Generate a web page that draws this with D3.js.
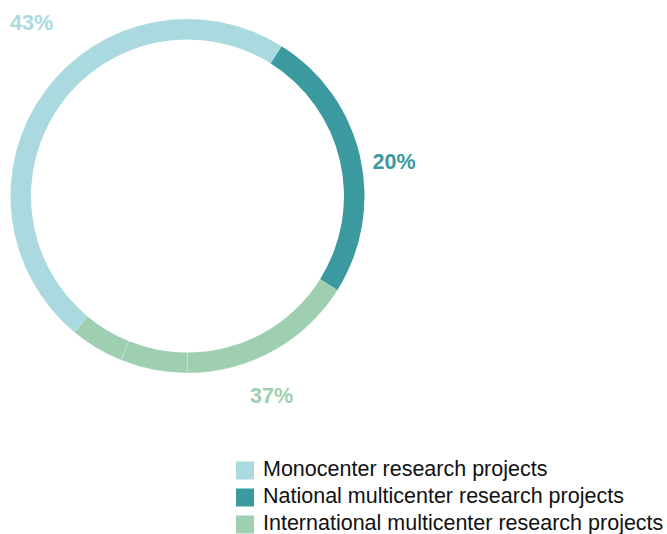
<!DOCTYPE html>
<html>
<head>
<meta charset="utf-8">
<script src="https://cdn.jsdelivr.net/npm/d3@7"></script>
<style>
  body { margin: 0; background: #fff; }
  svg { display: block; font-family: "Liberation Sans", Arial, Helvetica, sans-serif; }
</style>
</head>
<body>
<svg id="chart" width="667" height="534"></svg>
<script>
var categories = [
  "Monocenter research projects",
  "National multicenter research projects",
  "International multicenter research projects",
];

var shareLabels = ["43%", "20%", "37%"];

// ring pieces as drawn (share of the circle, %), and which category each belongs to
var segmentValues = [47.9, 25, 16.1, 6.1, 4.9];
var segmentCategory = [0, 1, 2, 2, 2];

var colors = ["#aadadf", "#3b9a9f", "#9ecfb1"];

var svg = d3.select("#chart"),
  cx = 187.5,
  cy = 196,
  outer = 177,
  inner = 156.5,
  g = svg.append("g").attr("transform", "translate(" + cx + "," + cy + ")");

var start = (219.7 * Math.PI) / 180;

var pie = d3
  .pie()
  .sort(null)
  .startAngle(start)
  .endAngle(start + 2 * Math.PI);

var arc = d3.arc().innerRadius(inner).outerRadius(outer);

g.selectAll("path")
  .data(pie(segmentValues))
  .enter()
  .append("path")
  .attr("d", arc)
  .attr("fill", function (d, i) {
    return colors[segmentCategory[i]];
  })
  .attr("stroke", function (d, i) {
    return segmentCategory[i] == 2 ? "rgba(255,255,255,0.35)" : "none";
  })
  .attr("stroke-width", 0.5);

// label placement: angle (deg) and radius from the ring centre
var labelPlace = [
  [316.8, 227.8],
  [82.55, 208.3],
  [157.9, 223.4],
];

g.selectAll("text.pct")
  .data(shareLabels)
  .enter()
  .append("text")
  .attr("class", "pct")
  .attr("transform", function (d, i) {
    var p = d3.pointRadial((labelPlace[i][0] * Math.PI) / 180, labelPlace[i][1]);
    return "translate(" + p + ")";
  })
  .attr("text-anchor", "middle")
  .attr("font-size", "21.5px")
  .attr("font-weight", "bold")
  .attr("fill", function (d, i) {
    return colors[i];
  })
  .text(function (d) {
    return d;
  });

var legend = svg
  .append("g")
  .attr("transform", "translate(236,461)")
  .selectAll("g")
  .data(categories)
  .enter()
  .append("g")
  .attr("transform", function (d, i) {
    return "translate(0," + i * 27 + ")";
  });

legend
  .append("rect")
  .attr("y", 0.5)
  .attr("width", 18)
  .attr("height", 18)
  .attr("fill", function (d, i) {
    return colors[i];
  });

legend
  .append("text")
  .attr("x", 27)
  .attr("y", 14.5)
  .attr("font-size", "21.5px")
  .attr("fill", "#111")
  .text(function (d) {
    return d;
  });
</script>
</body>
</html>
